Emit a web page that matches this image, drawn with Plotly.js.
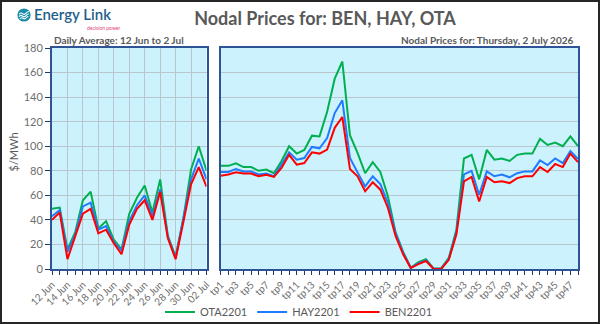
<!DOCTYPE html>
<html><head><meta charset="utf-8">
<script src="https://cdn.plot.ly/plotly-3.0.1.min.js"></script>
<style>
html,body{margin:0;padding:0;background:#fff;}
#wrap{position:relative;width:600px;height:324px;overflow:hidden;}
#chart{width:600px;height:324px;}
#frame{position:absolute;left:0;top:0;width:600px;height:324px;box-sizing:border-box;border:2px solid #262626;pointer-events:none;}
#logo{position:absolute;left:17px;top:8px;}
</style></head><body>
<div id="wrap"><div id="chart"></div>
<svg id="logo" width="14" height="14" viewBox="0 0 14 14">
<circle cx="7" cy="7" r="6.6" fill="#1A8DA8"/>
<path d="M2.2 6.2 q1.6 -2.2 3.4 -0.6 t3.6 -0.4 t2.8 -1.6" stroke="#fff" fill="none" stroke-width="1.1"/>
<path d="M2.0 8.6 q1.6 -2.2 3.4 -0.6 t3.6 -0.4 t2.9 -1.6" stroke="#fff" fill="none" stroke-width="1.1"/>
<path d="M3.0 10.8 q1.4 -1.8 3.0 -0.5 t3.2 -0.4 t2.2 -1.2" stroke="#fff" fill="none" stroke-width="1.1"/>
</svg>
<div id="frame"></div></div>
<script>
// Daily averages, 12 Jun to 2 Jul 2026
const days = ['2026-06-12','2026-06-13','2026-06-14','2026-06-15','2026-06-16','2026-06-17','2026-06-18',
  '2026-06-19','2026-06-20','2026-06-21','2026-06-22','2026-06-23','2026-06-24','2026-06-25',
  '2026-06-26','2026-06-27','2026-06-28','2026-06-29','2026-06-30','2026-07-01','2026-07-02'];
const dailyOTA = [49, 50, 16, 30, 56, 63, 33, 39, 24, 16, 45, 58, 68, 46, 73, 27, 10, 41, 81, 100, 80];
const dailyHAY = [43, 48, 14, 28, 51, 54, 32, 35, 22, 15, 39, 52, 60, 43, 65, 26, 9, 40, 73, 90, 73];
const dailyBEN = [40, 46, 8, 26, 45, 49, 29, 32, 21, 12, 36, 49, 56, 40, 63, 25, 8, 38, 69, 83, 67];

// Trading periods for Thursday, 2 July 2026
const periods = [1,2,3,4,5,6,7,8,9,10,11,12,13,14,15,16,17,18,19,20,21,22,23,24,
  25,26,27,28,29,30,31,32,33,34,35,36,37,38,39,40,41,42,43,44,45,46,47,48];
const tpOTA = [84, 84, 86, 83, 83, 80, 81, 78, 88, 100, 94, 97, 108.6, 108, 128, 155, 169, 109, 94.5, 78,
  87, 79, 59, 30, 14, 1, 5.5, 8, 0.5, 0.5, 9, 32, 90, 93, 73, 97, 89, 90, 88, 93, 94, 94, 106, 101, 103, 100, 108, 100];
const tpHAY = [79, 79, 81.5, 79.5, 79.5, 77, 77.7, 75.5, 85, 95, 89, 90.4, 99.4, 98.3, 106.7, 127, 137.4, 90.4, 78.7, 67.3,
  75.5, 69.2, 53.8, 29, 13, 1, 4.5, 7, 0.3, 0.3, 8, 30, 77, 80, 60.5, 79.5, 75.5, 77, 74.7, 78, 79.5, 79.5, 88.5, 84.7, 90, 86.3, 96, 89.6];
const tpBEN = [76, 77, 78.7, 77.7, 77.7, 75.5, 76.8, 75, 82.3, 93, 85, 86.3, 95, 94, 97.2, 115, 123.8, 81.5, 75.5, 63.3,
  70.6, 64.6, 49.7, 27, 12, 0.8, 4, 6.5, 0, 0, 7.5, 28, 71.4, 75, 55, 75, 70.6, 71.4, 70, 74, 75.5, 75.5, 83, 79, 85.5, 83, 94, 87];

const seriesNames = ['OTA2201', 'HAY2201', 'BEN2201'];
const seriesColors = ['#00B050', '#1F7BFF', '#FF0000'];
const dailySeries = [dailyOTA, dailyHAY, dailyBEN];
const tpSeries = [tpOTA, tpHAY, tpBEN];
const tpGrid = [8, 16, 24, 32, 40];

const FONT = 'Lato, "Open Sans", sans-serif';
const TXT = '#595959';
const TICKTXT = '#6E6E6E';
const GRID = '#BAC6CE';
const BORDER = '#2F5496';
const TICK = '#1F3864';
const DAY = 86400000;

const traces = [];
dailySeries.forEach((s, i) => traces.push({
  x: days, y: s, type: 'scatter', mode: 'lines', name: seriesNames[i],
  line: {color: seriesColors[i], width: 2}, xaxis: 'x', yaxis: 'y',
  legendgroup: seriesNames[i], showlegend: false, hoverinfo: 'skip'
}));
tpSeries.forEach((s, i) => traces.push({
  x: periods, y: s, type: 'scatter', mode: 'lines', name: seriesNames[i],
  line: {color: seriesColors[i], width: 2}, xaxis: 'x2', yaxis: 'y2',
  legendgroup: seriesNames[i], showlegend: true, hoverinfo: 'skip'
}));

const L = 52, R = 22, T = 48, B = 55;
const W = 600 - L - R, H = 324 - T - B;
const px = v => (v - L) / W;          // pixel x -> paper
const py = v => (324 - B - v) / H;    // pixel y -> paper

const layout = {
  width: 600, height: 324,
  margin: {l: L, r: R, t: T, b: B, pad: 0},
  paper_bgcolor: '#ffffff', plot_bgcolor: '#CCF2FD',
  font: {family: FONT, color: TXT, size: 11},
  showlegend: true,
  title: {text: 'Nodal Prices for: BEN, HAY, OTA', xref: 'container', x: 325/600, xanchor: 'center',
    yref: 'container', y: 1 - 19/324, yanchor: 'middle',
    font: {family: FONT, size: 18, color: TXT, weight: 'bold'}},
  legend: {orientation: 'h', xref: 'container', x: 299/600, xanchor: 'center',
    yref: 'container', y: 1 - 312/324, yanchor: 'middle',
    font: {size: 11, color: TXT}, bgcolor: 'rgba(0,0,0,0)', itemwidth: 30},
  xaxis: {
    domain: [0, px(206.5)], anchor: 'y', type: 'date', range: [days[0], days[days.length - 1]],
    tickmode: 'linear', tick0: days[0], dtick: 2 * DAY, tickformat: '%d %b', tickangle: -45,
    ticks: 'outside', ticklen: 4, tickwidth: 1, tickcolor: TICK,
    tickfont: {size: 10, color: TICKTXT},
    showgrid: true, gridcolor: GRID, gridwidth: 1,
    showline: true, linecolor: BORDER, linewidth: 2, mirror: true, zeroline: false,
    minor: {tick0: days[0], dtick: DAY, ticks: 'outside', ticklen: 4, tickwidth: 1, tickcolor: TICK, showgrid: false},
    automargin: false, fixedrange: true
  },
  yaxis: {
    anchor: 'x', range: [0, 180], tickmode: 'linear', tick0: 0, dtick: 20,
    ticks: 'outside', ticklen: 5, tickwidth: 1, tickcolor: TICK,
    tickfont: {size: 11, color: TICKTXT},
    showgrid: true, gridcolor: GRID, gridwidth: 1,
    showline: true, linecolor: BORDER, linewidth: 2, mirror: true, zeroline: false,
    automargin: false, fixedrange: true
  },
  xaxis2: {
    domain: [px(220.7), 1], anchor: 'y2', range: [periods[0], periods[periods.length - 1]],
    tickmode: 'linear', tick0: 1, dtick: 2, tickprefix: 'tp', tickangle: -45,
    ticks: 'outside', ticklen: 4, tickwidth: 1, tickcolor: TICK,
    tickfont: {size: 10, color: TICKTXT},
    showgrid: false, showline: true, linecolor: BORDER, linewidth: 2, mirror: true, zeroline: false,
    minor: {tick0: 1, dtick: 1, ticks: 'outside', ticklen: 4, tickwidth: 1, tickcolor: TICK, showgrid: false},
    automargin: false, fixedrange: true
  },
  xaxis3: {
    overlaying: 'x2', anchor: 'y2', range: [periods[0], periods[periods.length - 1]],
    tickmode: 'array', tickvals: tpGrid, showticklabels: false, ticks: '',
    showgrid: true, gridcolor: GRID, gridwidth: 1, showline: false, zeroline: false,
    automargin: false, fixedrange: true
  },
  yaxis2: {
    anchor: 'x2', range: [0, 180], tickmode: 'linear', tick0: 0, dtick: 20,
    showticklabels: false, ticks: '',
    showgrid: true, gridcolor: GRID, gridwidth: 1,
    showline: true, linecolor: BORDER, linewidth: 2, mirror: true, zeroline: false,
    automargin: false, fixedrange: true
  },
  annotations: [
    {text: '<b>Daily Average: 12 Jun to 2 Jul</b>', xref: 'paper', yref: 'paper', x: 0, xanchor: 'left',
      y: py(40.5), yanchor: 'middle', showarrow: false, font: {size: 10, color: TXT}},
    {text: '<b>Nodal Prices for: Thursday, 2 July 2026</b>', xref: 'paper', yref: 'paper', x: px(576), xanchor: 'right',
      y: py(40.5), yanchor: 'middle', showarrow: false, font: {size: 10, color: TXT}},
    {text: '$/MWh', xref: 'paper', yref: 'paper', x: px(12.5), xanchor: 'center', y: py(152), yanchor: 'middle',
      textangle: -90, showarrow: false, font: {size: 11, color: TXT}},
    {text: 'Energy Link', xref: 'paper', yref: 'paper', x: px(32), xanchor: 'left', y: py(14), yanchor: 'middle',
      showarrow: false, font: {size: 15, color: '#1F5F8B', weight: 600}},
    {text: 'decision power', xref: 'paper', yref: 'paper', x: px(84.5), xanchor: 'left', y: py(27.5), yanchor: 'middle',
      showarrow: false, font: {size: 5, color: '#E0457B'}}
  ],
  hovermode: false
};

Plotly.newPlot('chart', traces, layout, {displayModeBar: false, staticPlot: true});
</script>
</body></html>
